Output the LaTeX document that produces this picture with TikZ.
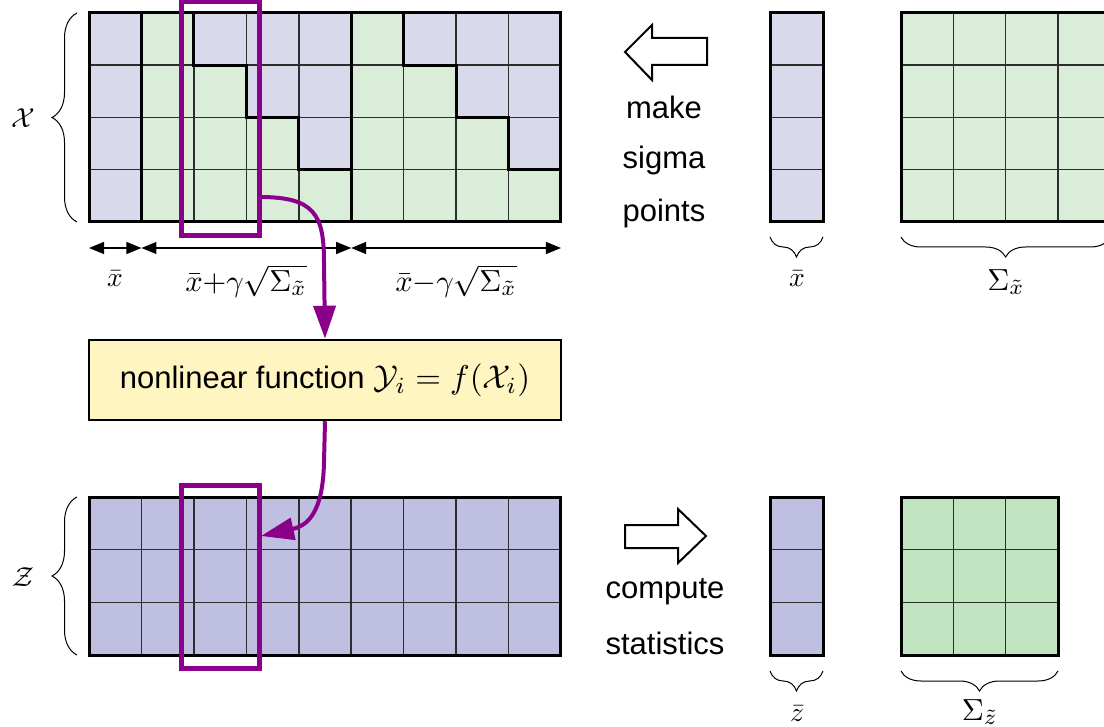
\documentclass[tikz,border=0pt]{standalone}
\usepackage[no-math]{fontspec}
\setmainfont{Liberation Sans}
\usetikzlibrary{arrows.meta,decorations.pathreplacing,calc}
\definecolor{xblue}{RGB}{217,217,236}
\definecolor{xgreen}{RGB}{217,237,217}
\definecolor{zblue}{RGB}{191,191,226}
\definecolor{zgreen}{RGB}{192,227,192}
\definecolor{nlyellow}{RGB}{255,245,192}
\definecolor{mag}{RGB}{139,0,139}
\definecolor{gridgray}{RGB}{45,45,45}
\newcommand{\mthlab}[1]{\scalebox{2.75}{\fontsize{10}{12}\selectfont$#1$}}
\newcommand{\mthsum}[1]{\scalebox{3.05}{\fontsize{10}{12}\selectfont$#1$}}
\newcommand{\mthbox}[1]{\scalebox{3.3}{\fontsize{10}{12}\selectfont$#1$}}
\begin{document}
\begin{tikzpicture}[x=1pt,y=-1pt,
  thinline/.style={line width=1.5pt,draw=gridgray},
  thickline/.style={line width=3pt,draw=black},
  magbox/.style={line width=5pt,draw=mag},
  magarrow/.style={line width=4pt,draw=mag,-{Triangle[length=33pt,width=22pt]},mag},
  dimarrow/.style={line width=1.2pt,{Triangle[length=15pt,width=12pt]}-{Triangle[length=15pt,width=12pt]}},
  hollow/.style={line width=2pt,draw=black,fill=white,line join=miter},
  sans/.style={font=\fontsize{31}{36}\selectfont,inner sep=0pt},
  mathlab/.style={inner sep=0pt},
  bracestyle/.style={line width=1pt,decorate},
  nlbox/.style={draw=black,line width=2.5pt,fill=nlyellow,minimum width=472pt,minimum height=80pt,inner sep=0pt,font=\fontsize{31}{36}\selectfont}
]
\useasboundingbox (0,0) rectangle (1104,727);
\clip (0,0) rectangle (1104,727);

% ---------- X grid ----------
\fill[xgreen] (89,13) rectangle (560.96,222);
\fill[xblue] (89,13) rectangle (141.44,222);
\fill[xblue] (193.88,13) rectangle (246.32,65.25);
\fill[xblue] (246.32,13) rectangle (298.76,117.5);
\fill[xblue] (298.76,13) rectangle (351.2,169.75);
\fill[xblue] (403.64,13) rectangle (456.08,65.25);
\fill[xblue] (456.08,13) rectangle (508.52,117.5);
\fill[xblue] (508.52,13) rectangle (560.96,169.75);
\foreach \i in {1,...,8} \draw[thinline] ({89+52.44*\i},13) -- ({89+52.44*\i},222);
\foreach \j in {1,2,3} \draw[thinline] (89,{13+52.25*\j}) -- (560.96,{13+52.25*\j});
\draw[thickline] (141.44,13) -- (141.44,222);
\draw[thickline] (351.2,13) -- (351.2,222);
\draw[thickline] (193.88,13) |- (246.32,65.25) |- (298.76,117.5) |- (351.2,169.75);
\draw[thickline] (403.64,13) |- (456.08,65.25) |- (508.52,117.5) |- (560.96,169.75);
\draw[thickline] (89,13) rectangle (560.96,222);

% ---------- x bar column ----------
\fill[xblue] (770,13) rectangle (823,222);
\foreach \j in {1,2,3} \draw[thinline] (770,{13+52.25*\j}) -- (823,{13+52.25*\j});
\draw[thickline] (770,13) rectangle (823,222);

% ---------- Sigma x ----------
\fill[xgreen] (901,13) rectangle (1110.2,222);
\foreach \i in {1,2,3} \draw[thinline] ({901+52.3*\i},13) -- ({901+52.3*\i},222);
\foreach \j in {1,2,3} \draw[thinline] (901,{13+52.25*\j}) -- (1110.2,{13+52.25*\j});
\draw[thickline] (901,13) rectangle (1110.2,222);

% ---------- Z grid ----------
\fill[zblue] (89,497) rectangle (560.96,655);
\foreach \i in {1,...,8} \draw[thinline] ({89+52.44*\i},497) -- ({89+52.44*\i},655);
\foreach \j in {1,2} \draw[thinline] (89,{497+52.67*\j}) -- (560.96,{497+52.67*\j});
\draw[thickline] (89,497) rectangle (560.96,655);

% ---------- z bar column ----------
\fill[zblue] (770,497) rectangle (823,655);
\foreach \j in {1,2} \draw[thinline] (770,{497+52.67*\j}) -- (823,{497+52.67*\j});
\draw[thickline] (770,497) rectangle (823,655);

% ---------- Sigma z ----------
\fill[zgreen] (901,497) rectangle (1058,655);
\foreach \i in {1,2} \draw[thinline] ({901+52.33*\i},497) -- ({901+52.33*\i},655);
\foreach \j in {1,2} \draw[thinline] (901,{497+52.67*\j}) -- (1058,{497+52.67*\j});
\draw[thickline] (901,497) rectangle (1058,655);

% ---------- braces and labels ----------
\draw[bracestyle,decoration={brace,amplitude=25pt}] (77,222) -- (77,13);
\node[mathlab] (lX) at (23,118) {\mthlab{\mathcal{X}}};
\draw[bracestyle,decoration={brace,amplitude=25pt}] (77,655) -- (77,497);
\node[mathlab] (lZ) at (23,577) {\mthlab{\mathcal{Z}}};

\draw[bracestyle,decoration={brace,amplitude=20pt}] (823,237) -- (770,237);
\node[mathlab] (lxb) at (797,279) {\mthlab{\bar{x}}};
\draw[bracestyle,decoration={brace,amplitude=20pt}] (1110.2,237) -- (901,237);
\node[mathlab] (lSx) at (1006,282) {\mthsum{\Sigma_{\tilde{x}}}};

\draw[bracestyle,decoration={brace,amplitude=20pt}] (823,671) -- (770,671);
\node[mathlab] (lzb) at (797,714) {\mthlab{\bar{z}}};
\draw[bracestyle,decoration={brace,amplitude=20pt}] (1058,671) -- (901,671);
\node[mathlab] (lSz) at (980,712) {\mthsum{\Sigma_{\tilde{z}}}};

% ---------- dimension arrows ----------
\coordinate (d0) at (89,248);
\coordinate (d1) at (141.44,248);
\coordinate (d2) at (351.2,248);
\coordinate (d3) at (560.96,248);
\draw[dimarrow] (d0) -- (d1);
\draw[dimarrow] (d1) -- (d2);
\draw[dimarrow] (d2) -- (d3);
\node[mathlab] (lm) at (115,279) {\mthlab{\bar{x}}};
\node[mathlab] (lp) at (246,281) {\mthsum{\bar{x}{+}\gamma\sqrt{\Sigma_{\tilde{x}}}}};
\node[mathlab] (ln) at (456,281) {\mthsum{\bar{x}{-}\gamma\sqrt{\Sigma_{\tilde{x}}}}};

% ---------- hollow arrows and texts ----------
\draw[hollow] (625,52) -- (652,25) -- (652,38) -- (707,38) -- (707,65) -- (652,65) -- (652,80) -- cycle;
\node[sans] (t1) at (664,107) {make};
\node[sans] (t2) at (664,160) {sigma};
\node[sans] (t3) at (664,213) {points};
\draw[hollow] (706,536) -- (678,509) -- (678,525) -- (625,525) -- (625,548) -- (678,548) -- (678,563) -- cycle;
\node[sans] (t4) at (665,592) {compute};
\node[sans] (t5) at (665,643) {statistics};

% ---------- nonlinear function box ----------
\node[nlbox] (nl) at (325,380) {nonlinear function \mthbox{\mathcal{Y}_i = f(\mathcal{X}_i)}};

% ---------- magenta selection boxes ----------
\draw[magbox] (181.5,1.5) rectangle (259.5,235.5);
\draw[magbox] (181.5,485) rectangle (259.5,668.5);
\coordinate (a1) at (259.5,197);
\coordinate (a2) at (261,536);

\draw[magarrow] (a1) .. controls (314,197) and (324,214) .. (324,262) -- (nl.north);
\draw[magarrow] (nl.south) -- (324,462) .. controls (323,515) and (306,526) .. (a2);
\end{tikzpicture}
\end{document}
